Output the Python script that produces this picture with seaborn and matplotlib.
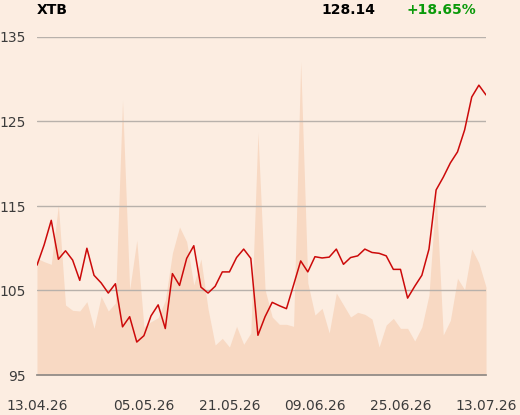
import matplotlib
matplotlib.use("Agg")
import matplotlib.pyplot as plt
import seaborn as sns
import pandas as pd
import numpy as np

# Daily closes (PLN) and traded volume (thousand shares)
price = [108.0, 110.4, 113.3, 108.7, 109.7, 108.6, 106.2, 110.0, 106.8, 105.9,
         104.7, 105.8, 100.7, 101.9, 98.9, 99.65, 102.0, 103.3, 100.5, 107.0,
         105.6, 108.8, 110.3, 105.4, 104.7, 105.5, 107.2, 107.2, 108.9, 109.9,
         108.8, 99.7, 101.9, 103.6, 103.2, 102.85, 105.65, 108.5, 107.2, 109.0,
         108.85, 108.95, 109.9, 108.1, 108.9, 109.1, 109.9, 109.5, 109.4, 109.1,
         107.5, 107.5, 104.1, 105.5, 106.8, 109.9, 116.9, 118.4, 120.1, 121.4,
         124.0, 127.9, 129.3, 128.14]
volume = [175, 170, 166, 255, 105, 97, 96, 110, 70, 118,
          96, 108, 412, 128, 202, 72, 80, 86, 112, 183,
          222, 200, 135, 174, 99, 45, 55, 42, 73, 46,
          63, 364, 128, 87, 76, 76, 73, 470, 138, 90,
          100, 63, 123, 105, 87, 94, 91, 84, 42, 75,
          85, 70, 70, 51, 72, 120, 273, 60, 82, 145,
          128, 189, 168, 132]
tick_labels = ['13.04.26', '05.05.26', '21.05.26', '09.06.26', '25.06.26', '13.07.26']
y_ticks = [95, 105, 115, 125, 135]
ticker = 'XTB'
last_close = '128.14'
change = '+18.65%'

# Warsaw trading sessions (1 May and Corpus Christi closed)
dates = pd.bdate_range('2026-04-13', '2026-07-13').drop(pd.to_datetime(['2026-05-01', '2026-06-04']))
df = pd.DataFrame({'idx': np.arange(len(dates)), 'date': dates, 'price': price, 'volume': volume})
tick_pos = [dates.get_loc(pd.to_datetime(t, format='%d.%m.%y')) for t in tick_labels]

bg = '#fcede1'
sns.set_theme(style="white")
plt.rcParams['font.family'] = ['DejaVu Sans']

fig = plt.figure(figsize=(5.2, 4.15), dpi=100, facecolor=bg)
ax = fig.add_axes([37 / 520, 1 - 375 / 415, 449 / 520, 338 / 415])
ax_v = ax.twinx()

# volume area behind the price line
ax_v.fill_between(df['idx'], df['volume'], 0, color='#f8d9c3', linewidth=0)
ax_v.set_ylim(0, 507)
ax_v.axis('off')
ax_v.set_facecolor(bg)

ax.set_zorder(ax_v.get_zorder() + 1)
ax.patch.set_visible(False)
ax_v.patch.set_visible(True)

sns.lineplot(data=df, x='idx', y='price', ax=ax, color='#cc0a0a', linewidth=1.1)

ax.set_xlim(0, len(dates) - 1)
ax.set_ylim(95, 135)
ax.set_yticks(y_ticks)
ax.yaxis.grid(True, color='#b8b1ab', linewidth=1.0)
ax.set_xticks(tick_pos)
ax.set_xticklabels(tick_labels)
ax.set_xlabel('')
ax.set_ylabel('')
for s in ['top', 'right', 'left']:
    ax.spines[s].set_visible(False)
ax.spines['bottom'].set_color('#8f8a86')
ax.tick_params(axis='x', length=14, width=1, color='#8f8a86', labelsize=10, labelcolor='#3b3b3b', pad=3)
ax.tick_params(axis='y', length=0, labelsize=10, labelcolor='#3b3b3b', pad=8)

fig.text(37 / 520, 1 - 10 / 415, ticker, fontsize=10, fontweight='bold', color='black', ha='left', va='center')
fig.text(348 / 520, 1 - 10 / 415, last_close, fontsize=10, fontweight='bold', color='black', ha='center', va='center')
fig.text(441 / 520, 1 - 10 / 415, change, fontsize=10, fontweight='bold', color='#0a9a0a', ha='center', va='center')

fig.savefig('out.png', dpi=100, facecolor=bg)
